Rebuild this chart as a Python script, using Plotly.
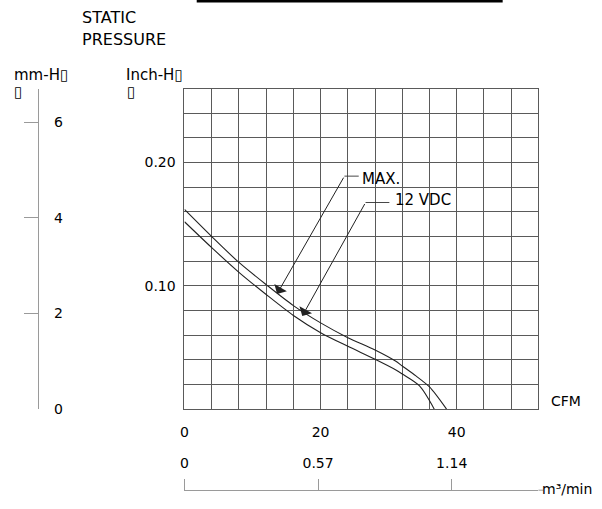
import plotly.graph_objects as go

W, H = 602, 509

# ---- data ----
cfm_max = [0, 4, 8, 12, 16, 20, 24, 28, 31, 32, 34, 36, 38.5]
sp_max = [0.162, 0.140, 0.119, 0.101, 0.084, 0.070, 0.058, 0.048, 0.039, 0.035, 0.027, 0.018, 0.0]

cfm_12v = [0, 4, 8, 12, 16, 20, 24, 28, 31, 32, 34.5, 36.7]
sp_12v = [0.152, 0.131, 0.111, 0.093, 0.076, 0.062, 0.051, 0.0405, 0.032, 0.0285, 0.019, 0.0]

cfm_ticks = [0, 20, 40]
inch_ticks = [0.10, 0.20]
inch_tick_text = ["0.10", "0.20"]
mm_ticks = [0, 2, 4, 6]
m3_ticks = [0, 0.57, 1.14]
m3_tick_text = ["0", "0.57", "1.14"]

# ---- geometry helpers (pixels -> paper) ----
def px(x):
    return x / W

def py(y):
    return 1 - y / H

plot_l, plot_r, plot_t, plot_b = 181.7, 538.0, 90.0, 415.7
FONT = "DejaVu Sans"
GRID = "#5a5a5a"
AX = "#9a9a9a"

fig = go.Figure()

fig.add_trace(go.Scatter(x=cfm_max, y=sp_max, mode="lines",
                         line=dict(color="#222", width=1.1, shape="spline", smoothing=0.8),
                         showlegend=False, hoverinfo="skip"))
fig.add_trace(go.Scatter(x=cfm_12v, y=sp_12v, mode="lines",
                         line=dict(color="#222", width=1.1, shape="spline", smoothing=0.8),
                         showlegend=False, hoverinfo="skip"))
# dummy traces so the secondary axes are drawn
fig.add_trace(go.Scatter(x=[None], y=[None], xaxis="x", yaxis="y2", showlegend=False, hoverinfo="skip"))
fig.add_trace(go.Scatter(x=[None], y=[None], xaxis="x2", yaxis="y", showlegend=False, hoverinfo="skip"))

fig.update_layout(
    width=W, height=H, autosize=False,
    margin=dict(l=0, r=0, t=0, b=0),
    paper_bgcolor="white", plot_bgcolor="white",
    font=dict(family=FONT, size=14, color="black"),
    xaxis=dict(
        domain=[px(plot_l), px(plot_r)], range=[0, 52],
        tickmode="array", tickvals=cfm_ticks, ticks="",
        showgrid=True, gridcolor=GRID, gridwidth=1,
        minor=dict(tick0=0, dtick=4, showgrid=True, gridcolor=GRID, gridwidth=1),
        showline=True, linecolor=GRID, linewidth=1, mirror=True,
        zeroline=False, ticklabelstandoff=10,
        tickfont=dict(size=14, family=FONT),
    ),
    yaxis=dict(
        domain=[py(plot_b), py(plot_t)], range=[0, 0.26],
        tickmode="array", tickvals=inch_ticks, ticktext=inch_tick_text, ticks="",
        showgrid=True, gridcolor=GRID, gridwidth=1,
        minor=dict(tick0=0, dtick=0.02, showgrid=True, gridcolor=GRID, gridwidth=1),
        showline=True, linecolor=GRID, linewidth=1, mirror=True,
        zeroline=False, ticklabelstandoff=5,
        tickfont=dict(size=14, family=FONT),
    ),
    yaxis2=dict(
        overlaying="y", anchor="free", position=px(34.5), side="right",
        range=[0, 6.70], tickmode="array", tickvals=mm_ticks,
        ticks="inside", ticklen=14, tickcolor=AX, tickwidth=1,
        ticklabelstandoff=12,
        showline=True, linecolor=AX, linewidth=1,
        showgrid=False, zeroline=False,
        tickfont=dict(size=14, family=FONT),
    ),
    xaxis2=dict(
        overlaying="x", anchor="free", position=py(498), side="top",
        range=[0, 1.51], tickmode="array", tickvals=m3_ticks, ticktext=m3_tick_text,
        ticks="outside", ticklen=11, tickcolor=AX, tickwidth=1,
        ticklabelstandoff=6,
        showline=True, linecolor=AX, linewidth=1,
        showgrid=False, zeroline=False,
        tickfont=dict(size=14, family=FONT),
    ),
)

# bottom axis line continues slightly past the grid, up to the unit label
fig.add_shape(type="line", xref="paper", yref="paper",
              x0=px(plot_r), x1=px(543), y0=py(498), y1=py(498),
              line=dict(color=AX, width=1))

# top black rule (cut-off title underline)
fig.add_shape(type="line", xref="paper", yref="paper",
              x0=px(194), x1=px(502), y0=py(1), y1=py(1),
              line=dict(color="black", width=3))

def txt(x, y, s, size=15, xanchor="left"):
    fig.add_annotation(xref="paper", yref="paper", x=px(x), y=py(y), text=s,
                       showarrow=False, xanchor=xanchor, yanchor="middle",
                       borderpad=0,
                       font=dict(family=FONT, size=size, color="black"))

txt(78, 18, "STATIC", 16)
txt(78, 40, "PRESSURE", 16)
txt(9, 76, "mm-H\u25af", 15)
txt(9, 93, "\u25af", 15)
txt(122, 76, "Inch-H\u25af", 15)
txt(123, 93, "\u25af", 15)
txt(550, 407, "CFM", 14)
txt(541, 497, "m\u00b3/min", 14)

# leader lines with arrows
def leader(tip, bend, end, label, label_x, label_y):
    fig.add_annotation(x=tip[0], y=tip[1], ax=bend[0], ay=bend[1],
                       xref="x", yref="y", axref="x", ayref="y",
                       text="", showarrow=True, arrowhead=1, arrowsize=2.4,
                       arrowwidth=1, arrowcolor="#222")
    fig.add_shape(type="line", xref="x", yref="y",
                  x0=bend[0], y0=bend[1], x1=end[0], y1=end[1],
                  line=dict(color="#333", width=0.9))
    fig.add_annotation(x=label_x, y=label_y, xref="x", yref="y", text=label,
                       showarrow=False, xanchor="left", yanchor="middle",
                       font=dict(family=FONT, size=15, color="black"))

leader((13.6, 0.0935), (23.5, 0.189), (25.6, 0.189), "MAX.", 25.8, 0.187)
leader((17.3, 0.0755), (26.6, 0.1676), (30.1, 0.1676), "12 VDC", 30.7, 0.170)

fig.write_html("out.html", config={"displayModeBar": False, "responsive": False},
               post_script="document.body.style.margin='0px';")
